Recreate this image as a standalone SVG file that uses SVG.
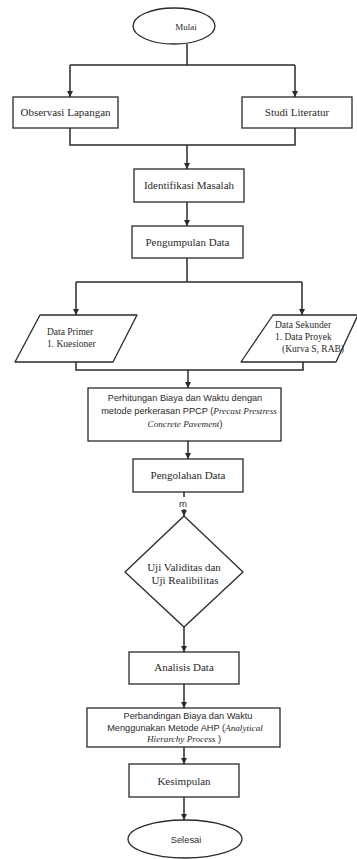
<svg xmlns="http://www.w3.org/2000/svg" width="357" height="859" viewBox="0 0 357 859">
<style>
.bg{fill:#ffffff}
.box{fill:#ffffff;stroke:#2a2a2a;stroke-width:1.3}
.con{fill:none;stroke:#2a2a2a;stroke-width:1.5}
.ser{font-family:"Liberation Serif","Times New Roman",serif;fill:#2a2a2a}
.san{font-family:"Liberation Sans",Arial,sans-serif;fill:#2a2a2a}
.it{font-family:"Liberation Serif","Times New Roman",serif;font-style:italic}
.c{text-anchor:middle}
</style>
<defs>
<marker id="arr" viewBox="0 0 10 10" refX="10" refY="5" markerWidth="6" markerHeight="6" markerUnits="userSpaceOnUse" orient="auto">
<path d="M0,0 L10,5 L0,10 z" fill="#2a2a2a"/>
</marker>
</defs>
<rect class="bg" x="0" y="0" width="357" height="859"/>

<g id="connectors">
<path class="con" d="M187,44 V65"/>
<path class="con" d="M70,65 H295"/>
<path class="con" d="M70,65 V97" marker-end="url(#arr)"/>
<path class="con" d="M295,65 V97" marker-end="url(#arr)"/>
<path class="con" d="M70,128 V145 H295 V128"/>
<path class="con" d="M187,145 V169" marker-end="url(#arr)"/>
<path class="con" d="M187,202 V226" marker-end="url(#arr)"/>
<path class="con" d="M187,258 V282"/>
<path class="con" d="M76,282 H302"/>
<path class="con" d="M76,282 V315" marker-end="url(#arr)"/>
<path class="con" d="M302,282 V315" marker-end="url(#arr)"/>
<path class="con" d="M76,362 V370 H303 V362"/>
<path class="con" d="M188,370 V388" marker-end="url(#arr)"/>
<path class="con" d="M188,441 V459" marker-end="url(#arr)"/>
<path class="con" d="M184,492 V497"/>
<text class="san c" x="183" y="507" font-size="9.5">m</text>
<path class="con" d="M184,509 V516" marker-end="url(#arr)"/>
<path class="con" d="M184,627 V652" marker-end="url(#arr)"/>
<path class="con" d="M184,684 V708" marker-end="url(#arr)"/>
<path class="con" d="M184,747 V764" marker-end="url(#arr)"/>
<path class="con" d="M184,797 V820" marker-end="url(#arr)"/>
</g>

<g id="mulai">
<ellipse class="box" cx="174" cy="26" rx="41" ry="18"/>
<text class="ser c" x="186" y="30" font-size="9">Mulai</text>
</g>

<g id="observasi">
<rect class="box" x="13" y="97" width="105" height="31"/>
<text class="ser c" x="65.5" y="116" font-size="11">Observasi Lapangan</text>
</g>

<g id="studi">
<rect class="box" x="242" y="97" width="110" height="31"/>
<text class="ser c" x="297" y="116" font-size="11">Studi Literatur</text>
</g>

<g id="identifikasi">
<rect class="box" x="134" y="169" width="110" height="33"/>
<text class="ser c" x="189" y="189" font-size="11">Identifikasi Masalah</text>
</g>

<g id="pengumpulan">
<rect class="box" x="132" y="226" width="111" height="32"/>
<text class="ser c" x="187.5" y="246" font-size="11">Pengumpulan Data</text>
</g>

<g id="primer">
<path class="box" stroke-linejoin="round" d="M40,315 H137 L113,362 H15 Z"/>
<text class="ser" x="47" y="335" font-size="9.5">Data Primer</text>
<text class="ser" x="47" y="347" font-size="9.5">1. Kuesioner</text>
</g>

<g id="sekunder">
<path class="box" stroke-linejoin="round" d="M273,315 H358 L336,362 H241 Z"/>
<text class="ser" x="275" y="328" font-size="9.5">Data Sekunder</text>
<text class="ser" x="275" y="340" font-size="9.5">1. Data Proyek</text>
<text class="ser" x="282" y="352" font-size="9.5">(Kurva S, RAB)</text>
</g>

<g id="perhitungan">
<rect class="box" x="88" y="388" width="193" height="53"/>
<text class="san c" x="185" y="401" font-size="9.2">Perhitungan Biaya dan Waktu dengan</text>
<text class="san c" x="189" y="414" font-size="9.2">metode perkerasan PPCP (<tspan class="it">Precast Prestress</tspan></text>
<text class="san c" x="185" y="427" font-size="9.2"><tspan class="it">Concrete Pavement</tspan>)</text>
</g>

<g id="pengolahan">
<rect class="box" x="133" y="459" width="110" height="33"/>
<text class="ser c" x="188" y="479" font-size="11">Pengolahan Data</text>
</g>

<g id="uji">
<path class="box" d="M184,516 L243,572 L184,627 L125,572 Z"/>
<text class="ser c" x="184" y="571" font-size="11">Uji Validitas dan</text>
<text class="ser c" x="185" y="584" font-size="11">Uji Realibilitas</text>
</g>

<g id="analisis">
<rect class="box" x="129" y="652" width="110" height="32"/>
<text class="ser c" x="184" y="671" font-size="11">Analisis Data</text>
</g>

<g id="perbandingan">
<rect class="box" x="87" y="708" width="193" height="39"/>
<text class="san c" x="188" y="719" font-size="9.2">Perbandingan Biaya dan Waktu</text>
<text class="san c" x="185" y="730.5" font-size="9.2">Menggunakan Metode AHP (<tspan class="it">Analytical</tspan></text>
<text class="san c" x="184" y="742" font-size="9.2"><tspan class="it">Hierarchy Process</tspan> )</text>
</g>

<g id="kesimpulan">
<rect class="box" x="129" y="764" width="110" height="33"/>
<text class="ser c" x="184" y="785" font-size="11">Kesimpulan</text>
</g>

<g id="selesai">
<ellipse class="box" cx="185" cy="839" rx="57" ry="19"/>
<text class="san c" x="186" y="843" font-size="9.4">Selesai</text>
</g>
</svg>
